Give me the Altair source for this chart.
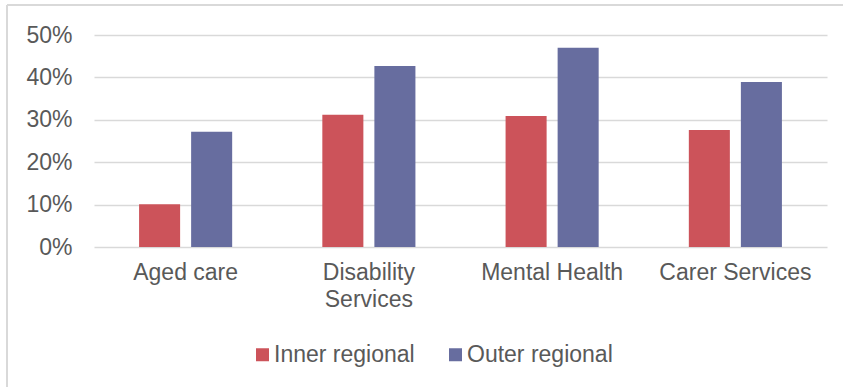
import altair as alt
import pandas as pd

categories = ["Aged care", "Disability Services", "Mental Health", "Carer Services"]
series = ["Inner regional", "Outer regional"]
inner_values = [0.101, 0.312, 0.309, 0.276]
outer_values = [0.272, 0.427, 0.470, 0.389]
colors = ["#CC535A", "#676D9F"]

rows = []
for c, iv, ov in zip(categories, inner_values, outer_values):
    rows.append({"category": c, "series": series[0], "value": iv})
    rows.append({"category": c, "series": series[1], "value": ov})
df = pd.DataFrame(rows)

FONT = "Liberation Sans"
GREY = "#595959"
FS = 23

bars = alt.Chart(df).mark_bar().encode(
    x=alt.X("category:N", sort=categories, title=None,
            scale=alt.Scale(paddingInner=0.492, paddingOuter=0.246),
            axis=alt.Axis(labelAngle=0, ticks=False, domain=False, grid=False,
                          labelFontSize=FS, labelColor=GREY, labelFont=FONT,
                          labelPadding=14, labelLineHeight=27,
                          labelExpr="datum.label == 'Disability Services' ? ['Disability', 'Services'] : datum.label")),
    xOffset=alt.XOffset("series:N", sort=series,
                        scale=alt.Scale(paddingInner=0.2115, paddingOuter=0)),
    y=alt.Y("value:Q", title=None,
            scale=alt.Scale(domain=[0, 0.5], nice=False),
            axis=alt.Axis(format=".0%", values=[0, 0.1, 0.2, 0.3, 0.4, 0.5],
                          ticks=False, domain=False, grid=True,
                          gridColor="#D9D9D9", gridWidth=1.5,
                          labelFontSize=FS, labelColor=GREY, labelFont=FONT,
                          labelPadding=22)),
    color=alt.Color("series:N", sort=series,
                    scale=alt.Scale(domain=series, range=colors),
                    legend=alt.Legend(title=None, orient="none", direction="horizontal",
                                      legendX=157, legendY=308,
                                      symbolType="square", symbolSize=169,
                                      symbolStrokeWidth=0,
                                      labelFontSize=FS, labelColor=GREY, labelFont=FONT,
                                      labelOffset=0, columnPadding=29)),
)

border_left = alt.Chart(df).mark_rule(color="#D9D9D9", strokeWidth=1.5, clip=False).encode(
    x=alt.value(-87), y=alt.value(-30), y2=alt.value(360)
)
border_top = alt.Chart(df).mark_rule(color="#D9D9D9", strokeWidth=1.5, clip=False).encode(
    x=alt.value(-87), x2=alt.value(760), y=alt.value(-30)
)

chart = alt.layer(border_left, border_top, bars).properties(
    width=733, height=212,
    autosize=alt.AutoSizeParams(type="none"),
    padding={"left": 94, "top": 35, "right": 16, "bottom": 140},
    background="white",
).configure_view(stroke=None)

chart.save("out.html", embed_options={"renderer": "svg", "actions": False})
